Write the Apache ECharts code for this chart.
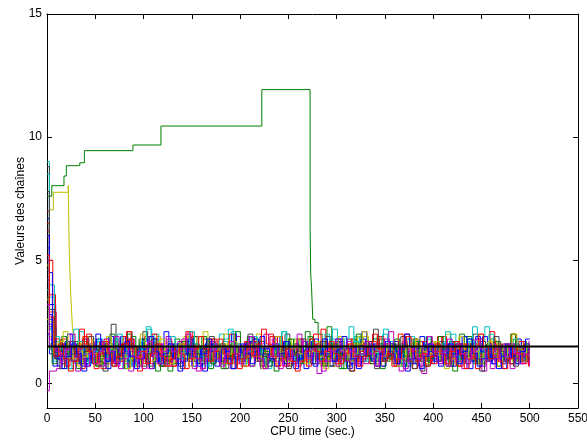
<!DOCTYPE html>
<html lang="fr">
<head>
<meta charset="utf-8">
<title>Valeurs des chaînes</title>
<script src="https://cdn.jsdelivr.net/npm/echarts@6/dist/echarts.min.js"></script>
<style>
html, body { margin: 0; padding: 0; background: #fff; }
#chart { width: 587px; height: 442px; }
</style>
</head>
<body>
<div id="chart"></div>
<script>
// axes
var xTicks = [0, 50, 100, 150, 200, 250, 300, 350, 400, 450, 500, 550];
var yTicks = [0, 5, 10, 15];
var endTime = 500;
var sampleStep = 5;
var refLevel = 1.5;

// matlab colour order
var colors = ['#0000ff', '#008000', '#ff0000', '#00bfbf', '#bf00bf', '#bfbf00', '#404040'];

// chain that climbs to ~12 then drops at t~272
var climbTimes  = [0, 5, 17.6, 20, 34, 38.7, 89, 118, 222.5, 272.5, 273.2, 274, 275.3, 277.5, 280.8];
var climbValues = [7.6, 8.03, 8.42, 8.84, 8.96, 9.45, 9.68, 10.45, 11.93, 6.4, 4.4, 3.9, 2.6, 2.47, 2.0];
var climbTail = [1.5, 2.3, 1.6, 1.3, 1.0, 1.4, 1.8, 1.2, 0.9, 1.1,
                 1.5, 1.3, 1.0, 1.2, 1.6, 1.4, 0.8, 1.1, 1.3, 1.7,
                 1.2, 1.0, 1.4, 1.1, 0.9, 1.3, 1.6, 1.2, 1.0, 1.5,
                 1.9, 1.3, 1.1, 0.8, 1.2, 1.4, 1.7, 1.3, 1.0, 1.2,
                 1.5, 1.1, 0.9, 1.3];

// yellow chain stuck at ~7.8 until t~22
var stuckTimes  = [0, 2.5, 6.6, 22, 23, 24.5, 26.3, 28];
var stuckValues = [6.0, 7.05, 7.76, 8.03, 5.4, 3.7, 2.27, 1.8];
var stuckTail = [1.7, 1.4, 1.1, 1.3, 1.0, 1.5, 1.8, 1.3, 1.1, 0.9,
                 1.2, 1.6, 1.3, 1.0, 1.4, 1.2, 0.8, 1.1, 1.5, 1.7,
                 1.3, 1.0, 1.2, 1.4, 1.9, 1.5, 1.1, 1.3, 0.9, 1.2,
                 1.6, 1.2, 1.0, 1.3, 1.5, 1.1, 1.4, 1.8, 1.3, 1.0,
                 1.2, 0.8, 1.1, 1.4, 1.6, 1.2, 1.5, 1.1, 1.3, 1.0,
                 1.4, 1.7, 1.3, 1.1, 0.9, 1.2, 1.6, 1.4, 1.0, 1.2,
                 1.5, 1.2, 0.9, 1.3, 1.7, 1.3, 1.1, 1.4, 2.0, 1.5,
                 1.2, 1.0, 1.3, 1.6, 1.2, 0.9, 1.1, 1.4, 1.2, 1.6,
                 1.3, 1.0, 1.2, 1.5, 1.1, 1.4, 1.8, 1.3, 1.1, 1.2,
                 1.4, 1.0, 1.3, 1.6, 1.2];

// the other chains: colour index, first two values (t=0, t=2.5), time offset, then one value every 5 s
var chainColor  = [1, 2, 3, 4, 5, 6, 0, 1, 2, 3, 4, 5, 6, 0,
                   0, 2, 1, 3, 4, 5, 6, 0, 2, 4];
var chainStart  = [[3.0, 2.2], [7.0, 5.0], [9.0, 3.5], [4.2, 2.4], [2.6, 1.9], [8.8, 2.6], [6.7, 2.8],
                   [2.4, 1.6], [6.2, 2.9], [3.8, 2.2], [5.0, 1.8], [3.4, 2.0], [4.6, 2.3], [5.5, 3.2],
                   [2.0, 1.2], [6.5, 3.6], [3.5, 1.4], [8.5, 4.0], [-0.3, 0.5], [4.8, 2.5], [7.8, 3.0],
                   [6.0, 4.5], [5.2, 2.7], [3.2, 1.5]];
var chainOffset = [2.5, 1, 3.5, 0.5, 3, 1.5, 0, 2, 4.5, 0.8, 3.3, 1.8, 4.3, 4,
                   1.2, 3.8, 0.3, 2.8, 4.7, 1.7, 3.2, 0.6, 2.2, 4.1];

var g1 = [1.0,1.4,1.2,0.6,0.9,1.3,1.7,1.1,0.8,1.2, 1.5,1.0,0.7,1.1,1.6,2.0,1.4,1.2,0.9,1.3,
          1.1,0.5,0.8,1.2,1.4,1.8,1.3,1.0,1.2,1.6, 1.4,0.9,0.6,1.0,1.3,1.7,1.2,0.8,1.1,1.5,
          1.9,1.3,1.0,0.7,1.2,1.4,1.1,0.9,1.6,1.3, 1.0,1.5,2.1,1.6,1.2,0.8,1.0,1.3,1.1,0.6,
          0.9,1.4,1.7,1.2,1.0,1.3,1.8,1.4,0.9,1.2, 1.6,1.1,0.7,1.0,1.5,1.2,0.9,1.3,1.7,1.4,
          1.0,0.8,1.2,1.6,2.0,1.5,1.1,0.9,1.3,1.0, 1.4,1.7,1.2,0.8,1.1,1.5,1.3,1.0,1.6,1.2];
var r1 = [1.5,1.2,1.8,1.4,0.9,1.1,1.6,2.0,1.3,1.0, 0.6,1.0,1.4,1.7,1.2,1.5,1.1,0.8,1.3,1.9,
          1.4,1.1,0.7,1.2,1.6,1.3,1.0,1.4,2.1,1.5, 1.2,0.9,1.3,1.8,1.4,1.0,0.8,1.2,1.6,1.3,
          1.7,1.1,0.9,1.4,1.2,1.9,1.5,1.0,0.7,1.2, 1.6,1.3,1.1,1.5,2.0,1.4,1.0,1.3,0.9,1.2,
          1.5,1.8,1.2,0.8,1.1,1.4,1.7,1.3,1.0,1.6, 1.2,0.9,1.3,1.9,1.5,1.1,1.4,0.8,1.2,1.7,
          1.3,1.0,1.5,1.2,0.7,1.1,1.6,1.4,1.8,1.2, 0.9,1.3,1.6,1.1,1.4,2.0,1.5,1.2,1.0,1.4];
var c1 = [1.7,1.3,0.9,1.2,1.6,2.1,1.5,1.1,0.8,1.3, 1.0,1.4,1.8,1.3,0.6,1.0,1.5,1.2,1.7,2.2,
          1.6,1.1,0.9,1.3,1.5,1.0,1.4,1.9,1.3,0.8, 1.2,1.6,1.1,1.4,2.0,1.7,1.2,0.9,1.3,1.0,
          1.5,1.8,1.3,1.1,0.7,1.2,1.6,2.1,1.4,1.0, 1.3,0.9,1.2,1.7,1.4,1.1,1.5,1.8,1.2,0.8,
          1.1,1.4,1.9,1.5,1.2,1.0,1.3,1.6,2.2,1.7, 1.3,1.0,0.8,1.2,1.5,1.1,1.4,1.8,1.3,0.9,
          1.2,1.6,2.0,1.4,1.1,1.3,0.9,1.2,1.7,2.3, 1.8,1.3,1.0,1.4,1.2,1.6,1.1,0.9,1.3,1.5];
var m1 = [1.1,0.7,1.0,1.4,1.2,0.9,1.3,1.6,1.0,0.8, 1.2,1.5,1.1,0.7,0.9,1.3,1.8,1.4,1.0,1.2,
          0.8,1.1,1.5,1.2,0.9,1.4,1.7,1.2,1.0,0.6, 1.0,1.3,1.6,1.2,1.0,0.8,1.2,1.5,1.9,1.3,
          1.0,1.4,1.1,0.7,1.0,1.3,1.6,1.2,0.9,1.1, 1.5,1.8,1.3,1.0,1.2,0.8,1.1,1.4,1.2,0.9,
          1.3,1.7,1.4,1.1,0.9,1.2,1.5,1.0,0.7,1.1, 1.4,1.2,1.6,2.0,1.5,1.1,0.9,1.2,1.4,1.0,
          0.8,1.1,1.3,1.7,1.2,1.0,1.4,1.6,1.2,0.5, 0.9,1.2,1.5,1.3,1.0,1.4,1.1,0.8,1.2,1.5];
var y1 = [1.4,1.7,1.3,1.0,1.2,1.6,1.9,1.4,1.1,0.8, 1.2,1.5,1.1,1.3,1.8,1.4,1.0,0.9,1.3,1.6,
          1.2,1.9,1.5,1.1,0.8,1.2,1.4,1.7,1.3,1.0, 1.5,1.2,0.9,1.3,1.6,2.0,1.5,1.2,1.0,1.4,
          1.1,1.7,1.3,0.9,1.2,1.5,1.1,1.4,1.8,1.3, 1.0,1.2,1.6,1.4,1.1,0.7,1.0,1.3,1.7,1.2,
          1.5,1.1,0.9,1.3,1.9,1.4,1.2,1.0,1.4,1.6, 1.3,1.0,1.2,1.5,1.8,1.3,0.9,1.1,1.4,1.2,
          1.6,2.0,1.5,1.2,1.0,1.3,1.7,1.4,1.1,0.9, 1.3,1.6,1.2,1.0,1.4,1.8,1.5,1.1,1.3,1.0];
var k1 = [1.3,1.0,1.6,1.2,0.9,1.4,1.8,1.3,1.1,0.7, 1.0,1.4,2.4,1.6,1.2,0.9,1.3,1.5,1.1,1.4,
          1.7,1.2,1.0,0.8,1.2,1.6,1.3,1.0,1.4,1.9, 1.4,1.1,0.9,1.3,1.5,1.2,0.8,0.6,1.0,1.4,
          1.7,1.3,1.1,1.5,1.2,0.9,1.3,1.6,2.0,1.4, 1.1,0.9,1.2,1.5,1.3,1.0,0.7,1.1,1.4,1.8,
          1.3,1.0,1.2,1.6,1.4,1.1,0.9,1.2,1.5,1.3, 1.0,1.4,1.9,1.5,1.2,0.8,0.5,0.9,1.3,1.6,
          1.2,1.0,1.4,1.7,1.3,1.1,1.5,2.0,1.6,1.2, 0.9,1.1,1.3,1.6,1.2,1.0,1.4,1.7,1.3,1.1];
var b1 = [1.3,1.1,0.8,1.2,1.5,1.5,1.0,0.7,1.1,1.4, 1.7,1.2,0.9,1.3,1.3,1.6,1.1,0.8,1.0,1.4,
          1.2,1.8,1.5,1.0,0.9,1.2,1.6,1.3,1.1,0.7, 1.0,1.4,1.7,1.2,1.2,0.9,1.3,1.5,1.0,1.1,
          1.6,1.9,1.4,1.0,0.8,1.1,1.3,1.3,1.7,1.2, 0.9,1.1,1.5,1.2,0.8,1.0,1.4,1.6,1.3,1.0,
          1.2,0.7,1.1,1.5,1.8,1.4,1.1,0.9,1.3,1.6, 1.2,1.0,1.4,1.1,0.8,1.2,1.7,1.5,1.1,0.9,
          1.3,1.6,1.2,1.0,1.4,1.9,1.3,0.9,1.1,1.5, 1.2,0.8,1.0,1.4,1.6,1.2,1.1,1.5,1.3,0.9];
var g2 = [1.2,1.5,1.0,1.3,1.7,1.2,0.9,1.1,1.4,1.0, 0.8,1.2,1.6,1.3,1.1,1.5,1.9,1.4,1.0,1.2,
          1.3,1.0,0.7,1.1,1.4,1.2,1.6,1.3,0.9,1.2, 1.5,1.8,1.3,1.0,1.2,0.8,1.1,1.5,1.2,1.4,
          1.0,1.3,1.6,1.2,0.9,1.2,1.4,1.1,1.7,1.3, 1.2,1.0,1.4,1.8,1.3,1.1,0.8,1.2,1.5,1.0,
          1.4,1.2,0.9,1.3,1.6,1.1,1.4,1.9,1.3,1.0, 1.2,1.5,1.1,0.7,1.0,1.3,1.2,1.6,1.4,1.1,
          0.9,1.3,1.7,1.2,1.0,1.4,1.1,0.8,1.2,1.5, 1.3,1.0,1.4,1.2,1.6,1.2,0.9,1.1,1.4,1.2];
var r2 = [1.2,0.8,1.0,1.4,1.1,0.6,0.9,1.3,1.7,1.2, 1.0,1.5,1.2,0.9,1.3,1.8,1.4,1.1,0.8,1.2,
          1.5,1.1,1.4,1.0,0.7,1.1,1.4,1.9,1.5,1.2, 0.9,1.3,1.6,1.2,1.0,1.4,1.1,0.8,1.3,1.7,
          1.3,1.0,1.2,1.5,2.0,1.6,1.2,0.9,1.1,1.4, 1.2,0.8,1.1,1.3,1.6,1.2,1.0,1.4,1.7,1.3,
          1.0,1.2,0.9,1.3,1.5,1.1,1.4,1.8,1.3,1.0, 0.7,1.1,1.4,1.2,1.6,1.3,1.0,1.2,1.5,1.9,
          1.4,1.1,0.9,1.2,1.6,1.3,1.1,0.8,1.2,1.4, 1.7,1.3,1.0,1.2,0.8,1.1,1.4,1.6,1.2,1.0];
var c2 = [0.9,1.3,1.0,0.6,1.1,1.5,1.2,0.9,1.3,1.7, 1.2,1.0,1.4,1.8,1.3,0.9,1.1,1.5,1.2,1.0,
          1.4,2.0,1.5,1.1,1.3,0.8,1.0,1.4,1.7,1.3, 1.0,1.2,0.7,1.1,1.5,1.2,1.4,2.1,1.6,1.2,
          0.9,1.1,1.4,1.2,0.8,1.2,1.6,1.3,1.0,1.4, 1.8,1.4,1.1,0.9,1.2,1.5,1.1,1.3,2.2,1.7,
          1.3,1.0,1.2,0.8,1.1,1.4,1.6,1.2,0.9,1.3, 1.5,1.1,1.0,1.4,1.9,1.4,1.2,0.7,1.0,1.3,
          1.6,1.2,1.4,1.1,0.9,1.3,1.7,2.3,1.6,1.2, 1.0,1.4,1.1,1.3,1.5,1.0,0.8,1.2,1.6,1.3];
var m2 = [1.4,1.1,1.6,1.3,0.9,1.2,1.8,1.4,1.0,1.3, 1.1,0.8,1.2,1.5,1.2,1.7,1.3,1.0,0.6,1.1,
          1.4,1.2,1.6,1.9,1.4,1.1,0.9,1.3,1.5,1.2, 1.0,1.3,1.7,1.2,0.8,1.1,1.4,1.0,1.2,1.6,
          1.3,1.1,0.9,1.2,1.5,1.8,1.3,1.0,1.4,1.2, 0.7,1.0,1.3,1.6,1.2,1.4,1.1,0.9,1.3,1.7,
          1.4,1.2,1.5,1.0,0.8,1.2,1.6,1.3,1.1,1.4, 1.0,1.3,1.7,1.4,1.2,0.9,0.4,0.8,1.2,1.5,
          1.3,1.6,1.2,1.0,1.4,1.1,1.3,1.8,1.4,1.0, 1.2,0.9,1.3,1.6,1.2,1.4,1.0,1.3,1.1,1.5];
var y2 = [1.6,1.2,0.9,1.1,1.5,1.3,1.0,1.4,1.8,1.3, 1.1,0.8,1.2,1.6,1.2,1.4,1.0,0.7,1.1,1.5,
          1.3,1.7,1.2,1.0,1.3,1.1,1.5,1.9,1.4,1.1, 0.9,1.2,1.4,1.0,1.3,1.6,1.2,0.8,1.1,1.4,
          1.2,1.5,2.0,1.5,1.2,1.0,1.3,1.1,0.9,1.2, 1.6,1.3,1.0,1.4,1.2,1.7,1.3,1.0,0.7,1.1,
          1.4,1.2,1.6,1.9,1.4,1.1,1.3,1.0,1.2,1.5, 1.2,0.9,1.1,1.4,1.6,1.2,1.0,1.3,1.7,1.2,
          1.0,1.3,1.1,0.8,1.2,1.5,1.3,1.6,2.0,1.4, 1.1,1.3,1.0,1.4,1.2,0.9,1.2,1.6,1.3,1.1];
var k2 = [1.1,1.4,1.2,1.7,1.3,1.0,0.8,1.2,1.5,1.1, 1.4,1.0,1.3,1.6,1.2,0.9,1.1,1.5,2.1,1.5,
          1.2,1.0,1.3,0.9,1.2,1.4,1.7,1.2,1.0,1.3, 1.5,1.1,0.8,1.2,1.6,1.3,1.0,1.4,1.2,0.9,
          1.3,1.7,1.4,1.1,1.0,1.2,1.5,1.2,0.7,1.0, 1.4,1.2,1.6,1.3,1.1,1.4,1.9,1.4,1.0,1.2,
          0.9,1.3,1.1,1.5,1.2,1.0,0.6,1.0,1.3,1.6, 1.2,1.4,1.1,1.3,1.8,1.4,1.1,0.9,1.2,1.5,
          1.3,1.0,1.4,1.2,0.9,1.1,1.5,1.2,1.7,1.3, 1.0,1.2,1.5,1.1,0.8,1.2,1.4,1.6,1.2,0.9];
var b2 = [1.0,1.3,1.7,1.2,0.8,1.1,1.5,1.3,0.9,1.2, 1.6,1.9,1.4,1.0,1.2,0.7,1.0,1.4,1.8,1.3,
          1.1,0.9,1.2,1.5,1.1,0.8,1.3,1.7,1.2,1.0, 1.4,1.6,1.1,0.7,1.0,1.3,1.5,1.2,0.9,1.1,
          1.3,1.8,1.4,1.0,1.2,1.6,1.1,0.8,1.2,1.4, 1.0,1.3,1.7,1.3,1.0,0.9,1.2,1.5,1.8,1.2,
          1.0,0.8,1.1,1.4,1.2,1.6,1.3,0.9,1.1,1.4, 1.7,1.2,1.0,1.3,0.8,1.1,1.5,1.3,1.0,1.2,
          1.4,1.0,0.7,1.1,1.5,1.2,1.6,1.9,1.3,1.0, 1.2,1.5,1.1,0.9,1.3,1.6,1.2,1.0,1.4,1.1];
var b3 = [0.7,1.1,1.6,2.0,1.4,0.9,0.5,0.8,1.3,1.8, 1.2,0.6,1.0,1.5,1.9,1.3,0.8,1.2,1.7,1.0,
          0.6,0.9,1.4,2.1,1.6,1.0,0.7,1.2,1.8,1.3, 0.8,0.5,1.0,1.6,1.2,0.9,1.5,2.0,1.4,0.7,
          1.1,1.7,1.2,0.6,0.9,1.4,1.9,1.3,0.8,1.2, 1.6,1.0,0.6,1.1,1.8,1.4,0.9,0.7,1.3,1.7,
          1.1,0.6,1.0,1.5,2.1,1.5,0.9,1.2,0.7,1.1, 1.6,1.3,0.8,0.5,1.0,1.4,1.9,1.2,0.8,1.3,
          1.7,1.1,0.7,1.2,1.6,1.0,0.6,1.1,1.5,1.9, 1.3,0.8,1.2,0.6,1.0,1.5,1.8,1.2,0.9,1.4];
var r3 = [1.8,1.2,0.7,1.0,1.5,2.2,1.6,1.0,0.6,1.1, 1.7,1.3,0.8,1.2,1.9,1.4,0.9,0.5,1.0,1.6,
          2.0,1.4,0.9,1.3,0.7,1.1,1.6,2.1,1.5,1.0, 0.6,1.2,1.8,1.3,0.9,1.4,2.0,1.5,1.0,0.7,
          1.2,1.7,1.1,0.6,1.0,1.5,1.9,1.3,0.8,1.2, 1.8,1.3,0.7,1.1,1.6,2.2,1.6,1.1,0.8,1.3,
          0.9,0.5,1.0,1.6,1.2,0.8,1.3,1.9,1.4,1.0, 1.5,2.0,1.4,0.9,0.6,1.1,1.7,1.2,0.8,1.3,
          1.9,1.4,1.0,0.7,1.2,1.6,1.1,0.6,1.0,1.5, 2.1,1.5,1.0,1.3,0.8,1.2,1.7,1.2,0.7,1.1];
var g3 = [0.8,1.3,1.9,1.4,0.9,0.6,1.0,1.5,1.2,0.7, 1.1,1.6,2.0,1.5,1.0,0.6,0.9,1.4,1.8,1.2,
          0.7,1.0,1.5,1.1,0.5,0.8,1.3,1.7,1.2,0.9, 1.4,1.9,1.3,0.8,1.2,0.6,1.0,1.6,2.1,1.5,
          1.0,0.7,1.2,1.7,1.3,0.9,0.5,1.0,1.4,1.8, 1.2,0.8,1.3,1.9,1.4,1.0,0.7,1.1,1.6,1.2,
          0.6,1.0,1.5,2.0,1.5,1.1,0.8,1.2,0.6,0.9, 1.4,1.8,1.3,0.9,1.2,1.7,1.1,0.7,1.0,1.5,
          1.9,1.4,0.9,0.5,1.0,1.3,1.8,1.2,0.8,1.1, 1.6,1.2,0.7,1.0,1.5,2.0,1.4,0.9,1.2,0.8];
var c3 = [1.9,1.4,1.0,1.6,2.2,1.7,1.2,0.8,1.3,1.8, 1.3,0.9,1.4,2.0,1.5,1.0,0.7,1.2,1.7,2.3,
          1.7,1.1,0.8,1.3,1.9,1.4,1.0,1.5,2.1,1.6, 1.1,0.7,1.2,1.6,1.2,1.8,2.2,1.6,1.1,0.8,
          1.3,1.9,1.4,1.0,0.6,1.1,1.6,2.1,1.5,1.1, 0.8,1.2,1.7,1.3,0.9,1.4,2.0,1.5,1.0,1.3,
          1.8,2.3,1.7,1.2,0.9,1.3,1.0,1.5,2.0,1.4, 1.0,0.7,1.2,1.8,1.3,0.9,1.4,1.9,1.5,1.1,
          1.6,2.1,1.6,1.1,0.8,1.2,1.7,1.3,0.9,1.4, 2.0,1.5,1.1,0.8,1.3,1.8,1.3,1.0,1.6,1.2];
var m3 = [0.6,1.0,1.4,0.9,0.5,0.8,1.2,1.6,1.1,0.7, 1.0,1.5,1.9,1.3,0.8,0.5,0.9,1.3,1.0,0.6,
          1.1,1.6,1.2,0.7,1.0,1.4,1.8,1.3,0.9,0.5, 0.8,1.2,1.7,1.2,0.8,1.1,0.6,1.0,1.5,1.1,
          0.7,1.2,1.6,2.0,1.4,0.9,0.6,1.0,1.3,0.8, 1.2,1.7,1.2,0.8,0.4,0.9,1.4,1.0,0.7,1.1,
          1.5,1.1,0.7,1.0,1.6,1.2,0.8,1.3,1.8,1.2, 0.9,0.5,0.9,1.4,1.0,0.7,1.2,1.6,1.1,0.8,
          1.3,1.8,1.3,0.9,0.6,1.0,1.5,1.0,0.7,1.2, 1.6,1.1,0.8,1.2,0.6,1.0,1.4,1.1,0.7,1.0];
var y3 = [1.2,1.7,2.1,1.5,1.0,0.7,1.1,1.6,1.2,0.8, 1.3,1.9,1.4,0.9,1.2,0.6,1.0,1.5,2.0,1.4,
          0.9,1.3,1.8,1.2,0.8,1.1,1.6,1.1,0.7,1.0, 1.5,2.1,1.5,1.0,1.4,0.8,1.2,1.7,1.2,0.7,
          1.1,1.6,1.1,0.6,1.0,1.5,1.9,1.3,0.9,1.4, 1.8,1.2,0.8,1.3,1.7,1.1,0.6,1.0,1.4,1.9,
          1.3,0.9,1.2,1.6,2.1,1.5,1.0,0.7,1.1,1.6, 1.2,0.7,1.0,1.5,1.1,1.8,1.3,0.8,1.2,1.7,
          1.1,0.6,1.0,1.4,1.9,1.4,1.0,1.3,0.8,1.2, 1.7,1.2,0.7,1.1,1.5,2.0,1.4,0.9,1.3,1.0];
var k3 = [1.0,0.6,1.1,1.7,1.2,0.8,1.3,1.9,1.4,0.9, 0.5,0.9,1.4,1.0,1.6,2.1,1.5,1.0,0.7,1.2,
          1.8,1.2,0.7,1.1,1.5,1.0,0.6,1.0,1.6,1.2, 0.8,1.3,1.9,1.3,0.9,0.6,1.1,1.5,1.0,1.4,
          2.0,1.4,0.9,1.2,0.7,1.0,1.5,1.1,0.6,0.9, 1.3,1.8,1.3,0.8,1.2,1.7,1.1,0.7,1.0,1.4,
          0.9,0.5,1.0,1.5,1.1,1.7,2.2,1.6,1.0,1.3, 0.8,1.2,1.6,1.1,0.6,1.0,1.4,1.9,1.3,0.9,
          1.2,0.7,1.1,1.6,1.2,0.8,1.3,1.0,0.5,0.9, 1.4,1.9,1.3,0.9,1.2,0.7,1.1,1.5,1.0,1.3];
var b4 = [1.5,1.0,0.6,1.1,1.6,1.2,0.7,1.0,1.5,2.0, 1.4,0.9,1.3,0.8,1.2,1.7,1.1,0.6,1.0,1.4,
          1.9,1.3,0.8,1.2,1.6,1.0,0.5,0.9,1.4,1.1, 0.7,1.2,1.8,1.3,0.9,1.4,1.0,0.6,1.1,1.6,
          1.2,0.8,1.3,1.9,1.4,1.0,0.7,1.2,1.7,1.1, 0.6,1.0,1.5,1.1,0.7,1.2,1.8,1.3,0.9,1.4,
          1.9,1.4,1.0,0.6,1.1,1.5,1.0,0.7,1.2,1.7, 1.2,0.8,1.4,2.0,1.5,1.0,0.6,1.1,1.6,1.1,
          0.7,1.2,1.6,1.2,0.8,1.3,1.8,1.2,0.7,1.0, 1.4,1.0,0.6,1.1,1.5,1.1,0.8,1.3,1.8,1.3];
var r4 = [1.1,1.6,1.0,0.5,0.9,1.4,1.9,1.3,0.8,1.2, 1.7,1.2,0.7,1.1,1.6,2.1,1.5,1.0,1.3,0.8,
          1.2,1.6,1.1,0.7,1.0,1.5,1.2,0.6,1.0,1.4, 1.9,1.4,0.9,1.3,1.8,1.2,0.8,1.2,0.6,1.0,
          1.5,1.1,1.6,2.2,1.6,1.1,0.7,1.0,1.4,0.9, 0.5,0.9,1.3,1.8,1.3,0.9,1.3,1.7,1.2,0.8,
          1.2,1.6,1.1,0.7,1.1,1.5,2.0,1.4,0.9,1.2, 0.7,1.0,1.5,1.9,1.3,0.9,1.2,0.7,1.1,1.6,
          1.2,0.8,1.3,1.7,1.2,0.6,1.0,1.5,2.0,1.5, 1.0,1.4,0.9,0.6,1.0,1.5,1.2,0.8,1.2,1.6];
var m4 = [1.3,0.9,1.4,2.0,1.5,1.0,0.7,1.2,0.8,1.3, 1.8,1.3,0.9,0.6,1.0,1.5,1.1,0.7,1.2,1.7,
          1.2,0.8,1.3,1.8,1.3,0.9,1.4,2.0,1.4,1.0, 0.6,1.0,1.4,1.0,0.7,1.2,1.7,1.2,0.8,1.3,
          1.9,1.4,1.0,0.6,1.1,1.6,1.1,0.7,1.0,1.5, 2.0,1.5,1.0,1.4,0.9,0.5,0.9,1.3,1.8,1.3,
          0.9,1.3,0.8,1.2,1.7,1.2,0.7,1.1,1.6,2.1, 1.5,1.0,0.6,1.0,1.4,1.0,1.5,1.9,1.3,0.9,
          1.2,0.7,1.1,1.6,1.2,0.8,1.3,1.8,1.4,0.9, 0.6,1.0,1.5,1.1,1.6,1.2,0.8,1.2,1.7,1.2];
var chainValues = [g1, r1, c1, m1, y1, k1, b1, g2, r2, c2, m2, y2, k2, b2,
                   b3, r3, g3, c3, m3, y3, k3, b4, r4, m4];

function buildChain(times, values, tailStart, tail) {
    var d = [];
    for (var i = 0; i < times.length; i++) d.push([times[i], values[i]]);
    for (var j = 0; j < tail.length; j++) {
        var t = tailStart + j * sampleStep;
        if (t >= endTime) break;
        d.push([t, tail[j]]);
    }
    d.push([endTime, d[d.length - 1][1]]);
    return d;
}

function chainSeries(data, color) {
    return {
        type: 'line', step: 'end', data: data, showSymbol: false, silent: true,
        lineStyle: { width: 1, color: color }, itemStyle: { color: color }
    };
}

var series = [];
series.push(chainSeries(buildChain(climbTimes, climbValues, 285, climbTail), colors[1]));
series.push(chainSeries(buildChain(stuckTimes, stuckValues, 30, stuckTail), colors[5]));
for (var n = 0; n < chainValues.length; n++) {
    series.push(chainSeries(
        buildChain([0, 2.5], chainStart[n], sampleStep + chainOffset[n], chainValues[n]),
        colors[chainColor[n]]));
}
series.push({
    type: 'line', data: [[0, refLevel], [550, refLevel]], showSymbol: false, silent: true, z: 5,
    lineStyle: { width: 2, color: '#000' }
});

var font = 'Liberation Sans, Arial, sans-serif';
var axisLine = { show: true, onZero: false, lineStyle: { color: '#000', width: 1 } };
var tickLine = { color: '#000', width: 1 };

var myChart = echarts.init(document.getElementById('chart'));
myChart.setOption({
    animation: false,
    backgroundColor: '#fff',
    grid: { left: 47, right: 9, top: 14, bottom: 34, outerBoundsMode: 'none', containLabel: false },
    xAxis: [{
        type: 'value', min: 0, max: 550, interval: 50, position: 'bottom',
        axisLine: axisLine,
        axisTick: { inside: true, length: 5, lineStyle: tickLine },
        axisLabel: { color: '#000', fontSize: 12, fontFamily: font, margin: 5 },
        splitLine: { show: false },
        name: 'CPU time (sec.)', nameLocation: 'middle', nameGap: 18, nameMoveOverlap: false,
        nameTextStyle: { color: '#000', fontSize: 12, fontFamily: font }
    }, {
        type: 'value', min: 0, max: 550, interval: 50, position: 'top',
        axisLine: axisLine,
        axisTick: { inside: true, length: 5, lineStyle: tickLine },
        axisLabel: { show: false }, splitLine: { show: false }
    }],
    yAxis: [{
        type: 'value', min: -1, max: 15, position: 'left',
        axisLine: axisLine,
        axisTick: { inside: true, length: 5, customValues: yTicks, lineStyle: tickLine },
        axisLabel: { color: '#000', fontSize: 12, fontFamily: font, margin: 5, customValues: yTicks },
        splitLine: { show: false },
        name: 'Valeurs des chaînes', nameLocation: 'middle', nameGap: 20, nameRotate: 90, nameMoveOverlap: false,
        nameTextStyle: { color: '#000', fontSize: 12, fontFamily: font }
    }, {
        type: 'value', min: -1, max: 15, position: 'right',
        axisLine: axisLine,
        axisTick: { inside: true, length: 5, customValues: yTicks, lineStyle: tickLine },
        axisLabel: { show: false }, splitLine: { show: false }
    }],
    series: series
});
</script>
</body>
</html>
